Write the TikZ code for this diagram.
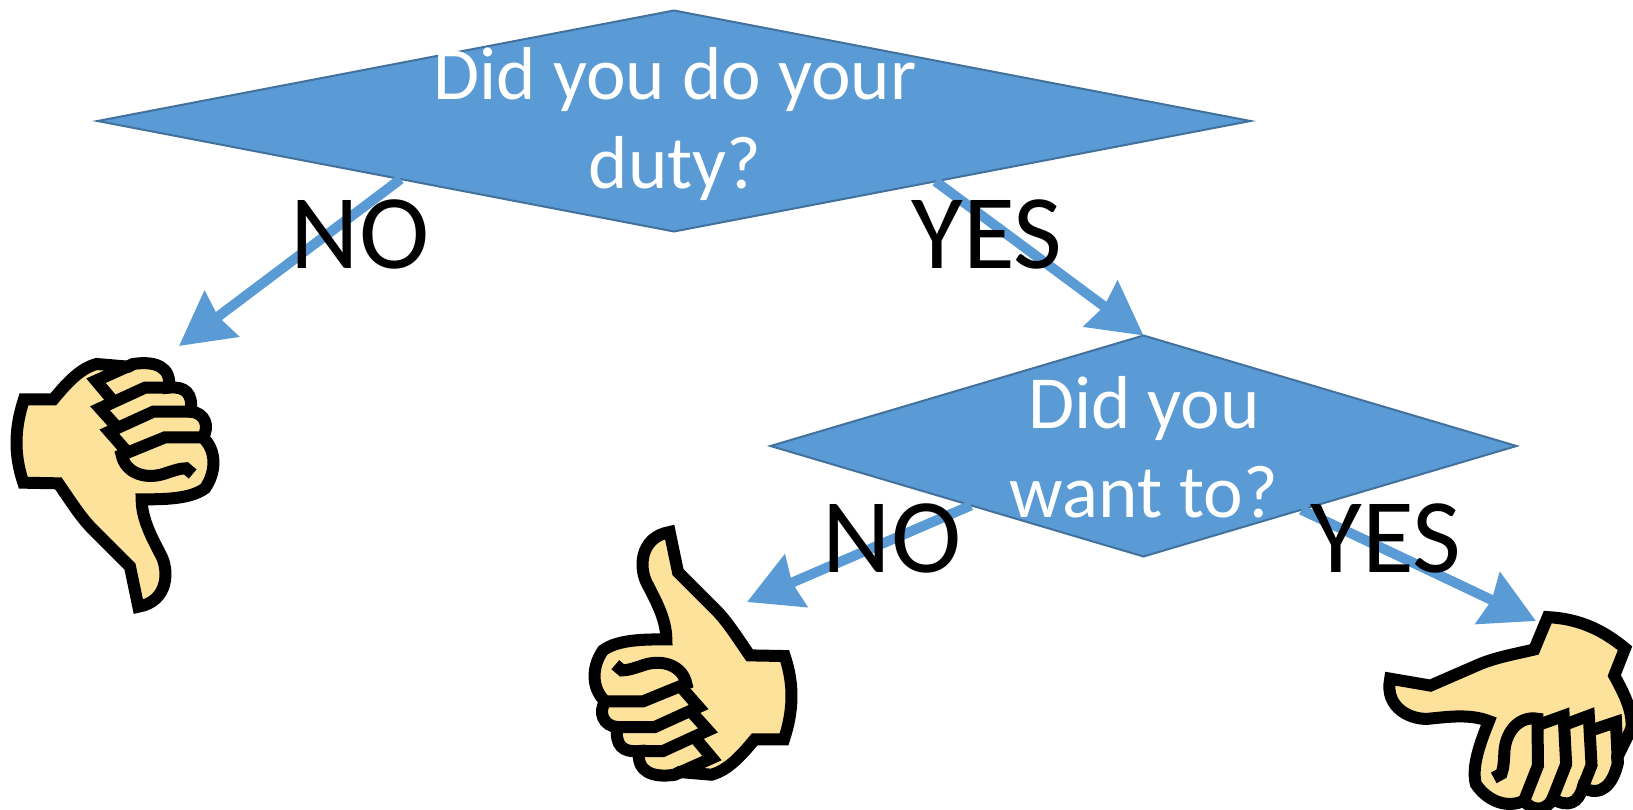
\documentclass[tikz,border=0pt]{standalone}
\usepackage{fontspec}
\setmainfont{Carlito}
\usetikzlibrary{shapes.geometric,arrows.meta}
\definecolor{boxblue}{HTML}{5B9BD5}
\definecolor{boxedge}{HTML}{41719C}
\definecolor{handyellow}{HTML}{FCE29A}
\tikzset{
  decision/.style={draw=boxedge, fill=boxblue, diamond, line width=2pt, inner sep=0pt, outer sep=0pt},
  question/.style={text=white, align=center, font=\fontsize{75}{89}\selectfont},
  answer/.style={text=black, font=\fontsize{106}{120}\selectfont},
  flow/.style={draw=boxblue, line width=10pt, -{Stealth[length=53pt,width=56pt,inset=4pt]}},
  thumbhand/.pic={
    \begin{scope}[scale=1/3, line width=12pt, miter limit=6]
    \filldraw[fill=handyellow] (72,178) -- (160,178) .. controls (200,130) and (240,85) .. (290,72) -- (385,80) -- (400,72) .. controls (465,62) and (515,80) .. (507,143) .. controls (555,138) and (580,160) .. (572,215) .. controls (615,218) and (630,260) .. (608,292) .. controls (650,330) and (650,395) .. (615,445) .. controls (570,478) and (490,478) .. (425,478) .. controls (425,540) and (460,600) .. (480,640) .. controls (510,690) and (505,785) .. (415,800) -- (390,680) -- (280,570) .. controls (240,530) and (210,480) .. (175,430) -- (70,428) .. controls (40,340) and (45,260) .. (72,178) -- cycle;
    \draw (400,72) -- (288,122) -- (335,178);
    \draw (507,143) -- (435,143) -- (300,205) -- (345,255);
    \draw (572,215) -- (460,215) -- (328,275) -- (378,332);
    \draw (608,292) -- (495,292) -- (365,345) .. controls (375,395) and (430,420) .. (490,402) .. controls (520,392) and (540,385) .. (558,385) -- (578,402);
    \end{scope}
  }
}
\begin{document}
\begin{tikzpicture}[x=1pt,y=-1pt]
\useasboundingbox (0,0) rectangle (1633,809);
\node[decision, minimum width=1153pt, minimum height=221pt] (duty) at (674,121) {};
\node[decision, minimum width=746pt, minimum height=221pt] (want) at (1143.5,446) {};
\node[question] (dutytext) at (675,124) {Did you do your\\duty?};
\node[question] (wanttext) at (1144,447) {Did you\\want to?};
\coordinate (downtip) at (179,346);
\coordinate (uptip) at (747,602);
\coordinate (sidetip) at (1536,621);
\draw[flow] (duty.192) -- (downtip);
\draw[flow] (duty.-13) -- (want.north);
\draw[flow] (want.199) -- (uptip);
\draw[flow] (want.-22) -- (sidetip);
\node[answer] (dutyno) at (360,234) {NO};
\node[answer] (dutyyes) at (987,234) {YES};
\node[answer] (wantno) at (892,538) {NO};
\node[answer] (wantyes) at (1386,538) {YES};
\pic at (0,340) {thumbhand};
\pic[rotate=180] at (808,798.7) {thumbhand};
\pic[rotate=-111.5] at (1689,647.7) {thumbhand};
\end{tikzpicture}
\end{document}
